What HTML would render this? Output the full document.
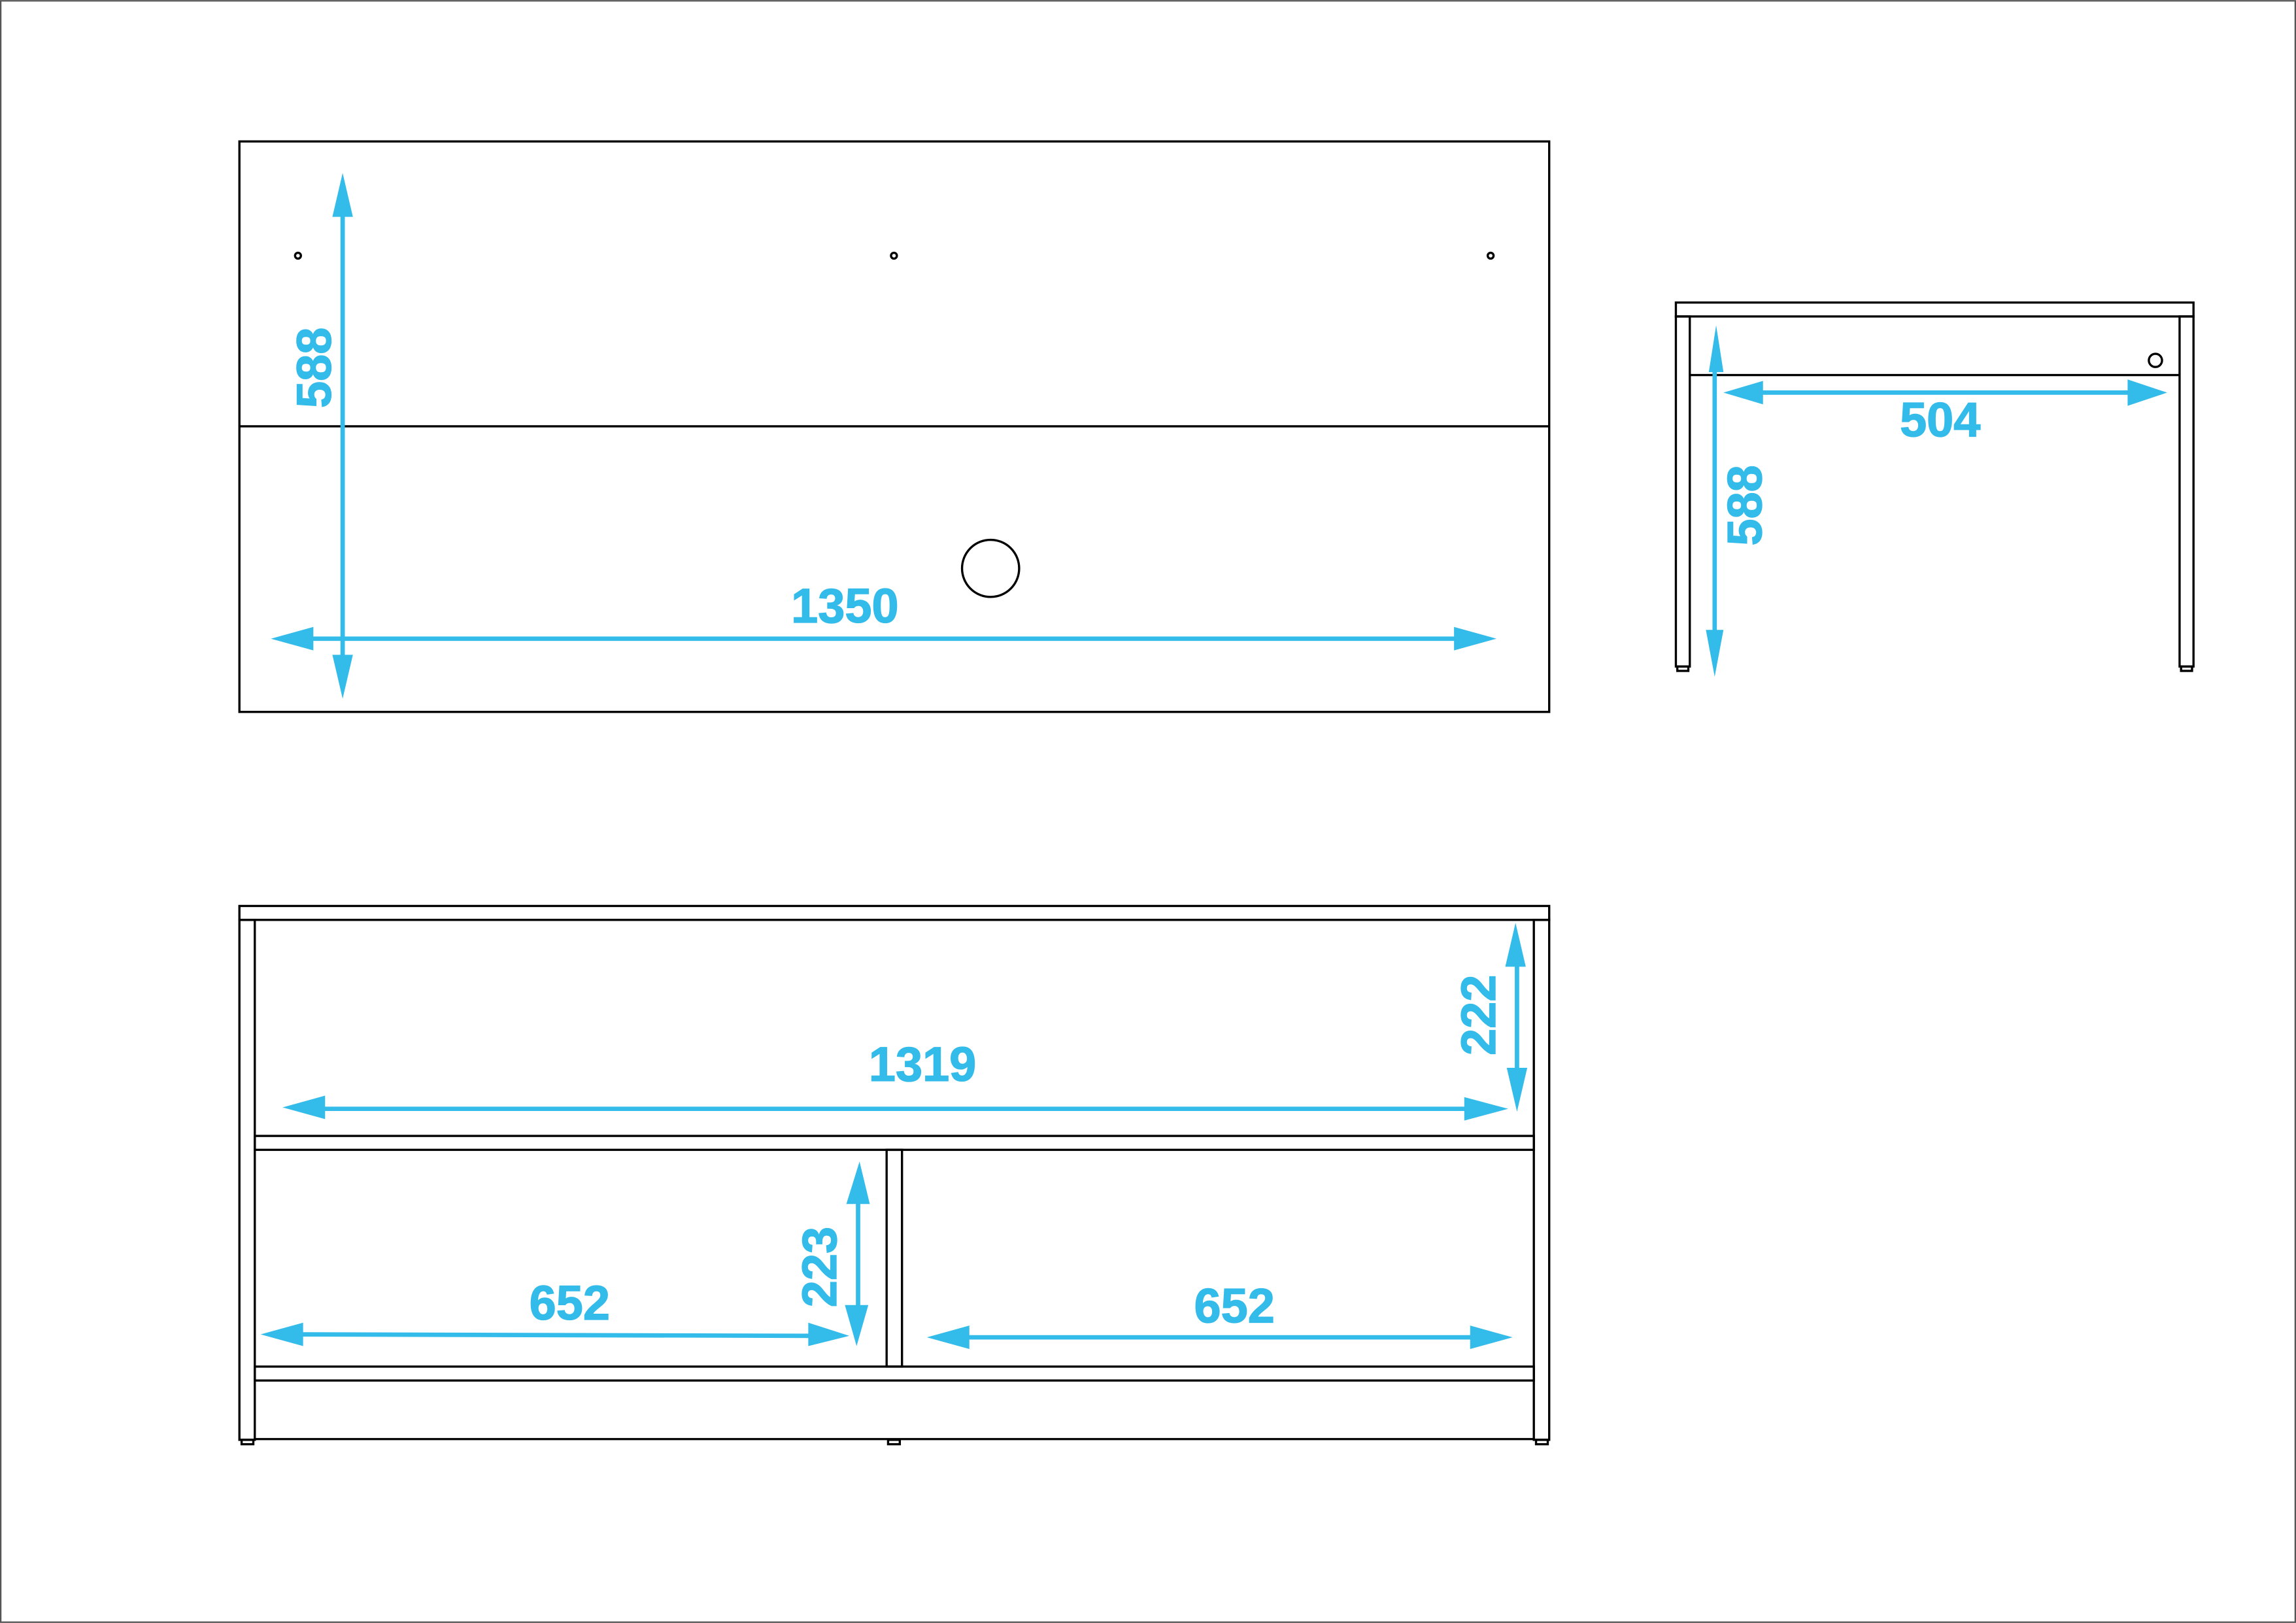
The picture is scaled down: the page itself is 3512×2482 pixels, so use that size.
<!DOCTYPE html>
<html><head><meta charset="utf-8"><style>html,body{margin:0;padding:0;background:#fff}svg{display:block}</style></head>
<body>
<svg width="3512" height="2482" viewBox="0 0 1568 1108" xmlns="http://www.w3.org/2000/svg">
<defs>
<style>
.k{fill:none;stroke:#000;stroke-width:1.5}
.d{stroke:#33bbea;stroke-width:3;fill:none}
.a{fill:#33bbea}
.t{fill:#33bbea;font-family:"Liberation Sans",sans-serif;font-weight:bold;font-size:33px;stroke:#33bbea;stroke-width:0.6}
</style>
</defs>
<rect x="0.5" y="0.5" width="1567" height="1107" fill="#fff" stroke="#555" stroke-width="1"/>

<!-- Top view -->
<rect class="k" x="163.5" y="96.5" width="894.5" height="389.5"/>
<line class="k" x1="163.5" y1="291" x2="1058" y2="291"/>
<circle class="k" cx="203.5" cy="174.5" r="2"/>
<circle class="k" cx="610.5" cy="174.5" r="2"/>
<circle class="k" cx="1018" cy="174.5" r="2"/>
<circle class="k" cx="676.5" cy="388" r="19.5"/>
<line class="d" x1="234" y1="145" x2="234" y2="450"/>
<polygon class="a" points="234,118 241,148 227,148"/>
<polygon class="a" points="234,477 241,447 227,447"/>
<text class="t" transform="translate(226,251) rotate(-90)" text-anchor="middle">588</text>
<line class="d" x1="212" y1="436" x2="995" y2="436"/>
<polygon class="a" points="185,436 214,428 214,444"/>
<polygon class="a" points="1022,436 993,428 993,444"/>
<text class="t" x="577" y="425" text-anchor="middle">1350</text>

<!-- Side view -->
<rect class="k" x="1144.5" y="206.5" width="353.5" height="9.5"/>
<rect class="k" x="1144.5" y="216" width="9.5" height="239"/>
<rect class="k" x="1145.5" y="455" width="7.5" height="3"/>
<rect class="k" x="1488.5" y="216" width="9.5" height="239"/>
<rect class="k" x="1489.5" y="455" width="7.5" height="3"/>
<line class="k" x1="1154" y1="256" x2="1488.5" y2="256" stroke-width="2"/>
<circle class="k" cx="1472" cy="246" r="4.5"/>
<line class="d" x1="1171" y1="248" x2="1171" y2="436"/>
<polygon class="a" points="1172,222 1177,254 1167,254"/>
<polygon class="a" points="1171,462 1177,430 1165,430"/>
<text class="t" transform="translate(1203,345) rotate(-90)" text-anchor="middle">588</text>
<line class="d" x1="1200" y1="268" x2="1455" y2="268"/>
<polygon class="a" points="1177,268 1204,260 1204,276"/>
<polygon class="a" points="1480,268 1453,259 1453,277"/>
<text class="t" x="1325" y="298" text-anchor="middle">504</text>

<!-- Front view -->
<rect class="k" x="163.5" y="618.5" width="894.5" height="9.5"/>
<rect class="k" x="163.5" y="628" width="10.5" height="355"/>
<rect class="k" x="165" y="983" width="8" height="3"/>
<rect class="k" x="1047.5" y="628" width="10.5" height="355"/>
<rect class="k" x="1049" y="983" width="8" height="3"/>
<rect class="k" x="174" y="775.5" width="873.5" height="9.5"/>
<rect class="k" x="174" y="933" width="873.5" height="9.5"/>
<line class="k" x1="174" y1="982.5" x2="1047.5" y2="982.5"/>
<rect class="k" x="605.5" y="785" width="10.5" height="148"/>
<rect class="k" x="606.5" y="983" width="8" height="3"/>

<line class="d" x1="218" y1="757" x2="1004" y2="757"/>
<polygon class="a" points="193,756 222,748 222,764"/>
<polygon class="a" points="1030,757 1000,749 1000,765"/>
<text class="t" x="630" y="738" text-anchor="middle">1319</text>

<line class="d" x1="1036" y1="655" x2="1036" y2="734"/>
<polygon class="a" points="1035,630 1042,660 1028,660"/>
<polygon class="a" points="1036,759 1043,729 1029,729"/>
<text class="t" transform="translate(1021,693) rotate(-90)" text-anchor="middle">222</text>

<line class="d" x1="586" y1="818" x2="586" y2="895"/>
<polygon class="a" points="587,793 594,822 578,822"/>
<polygon class="a" points="585,919 593,891 577,891"/>
<text class="t" transform="translate(571,865) rotate(-90)" text-anchor="middle">223</text>

<line class="d" x1="203" y1="911" x2="555" y2="912"/>
<polygon class="a" points="178,911 207,903 207,919"/>
<polygon class="a" points="580,912 552,903 552,919"/>
<text class="t" x="389" y="901" text-anchor="middle">652</text>

<line class="d" x1="658" y1="913" x2="1008" y2="913"/>
<polygon class="a" points="633,913 662,905 662,921"/>
<polygon class="a" points="1033,913 1004,905 1004,921"/>
<text class="t" x="843" y="903" text-anchor="middle">652</text>
</svg>
</body></html>
